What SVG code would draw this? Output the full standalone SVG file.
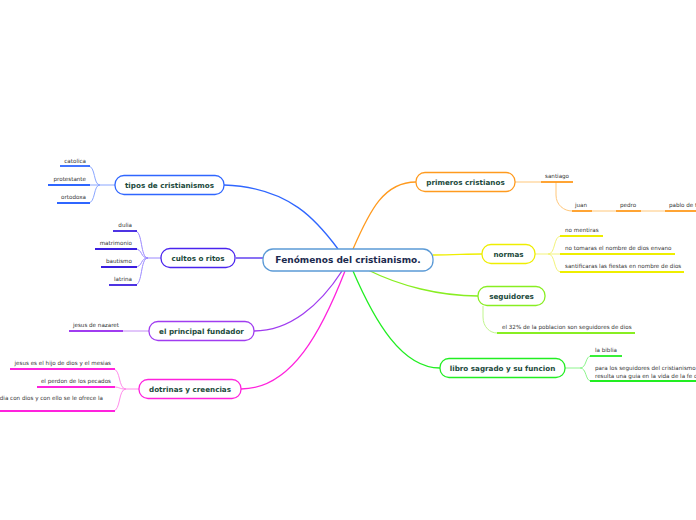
<svg xmlns="http://www.w3.org/2000/svg" width="696" height="520" viewBox="0 0 696 520">
<style>
.node rect{fill:#fff;stroke-width:1.3}
.nt{font-family:"DejaVu Sans",sans-serif;font-weight:bold;font-size:7.2px;fill:#1b4a3c;text-anchor:middle}
.ct{font-family:"DejaVu Sans",sans-serif;font-weight:bold;font-size:9px;fill:#1b2a4e;text-anchor:middle}
.lt{font-family:"DejaVu Sans",sans-serif;font-size:5.6px;fill:#333}
.e{text-anchor:end}
.c path{fill:none}
.m{stroke-width:1.3}
.b{stroke-width:1}
.u{stroke-width:1.8}
</style>
<g id="connectors" class="c">
<path class="m" d="M224,185 C290,187 318,222 338,249" stroke="#2f66ff"/>
<path class="m" d="M353,249 C370,210 384,182 416,182" stroke="#ff9a1e"/>
<path class="m" d="M433,255 C455,255 465,254 482,254" stroke="#eeee00"/>
<path class="m" d="M368,270 C400,286 440,296 478,296" stroke="#88ee22"/>
<path class="m" d="M353,271 C375,322 402,368 440,368" stroke="#22ee22"/>
<path class="m" d="M342,271 C320,305 290,331 254,331" stroke="#a03cf0"/>
<path class="m" d="M345,271 C322,330 292,389 241,389" stroke="#ff22dd"/>
<path class="m" d="M263,258 L236,258" stroke="#4a24ee"/>
<g stroke="#8aa6ff">
<path class="b" d="M115,185 L100,185 C93,185 96,166 88,166"/>
<path class="b" d="M100,185 L88,185"/>
<path class="b" d="M100,185 C93,185 96,203 88,203"/>
</g>
<g stroke="#2f66ff">
<path class="u" d="M60,166 H90"/>
<path class="u" d="M48,185 H90"/>
<path class="u" d="M57,203 H90"/>
</g>
<g stroke="#9a88ff">
<path class="b" d="M161,258 L148,258 C140,258 143,231 135,231"/>
<path class="b" d="M148,258 C140,258 143,249 135,249"/>
<path class="b" d="M148,258 C140,258 143,267 135,267"/>
<path class="b" d="M148,258 C140,258 143,285 135,285"/>
</g>
<g stroke="#3a1ee0">
<path class="u" d="M113,231 H137"/>
<path class="u" d="M95,249 H137"/>
<path class="u" d="M101,267 H137"/>
<path class="u" d="M109,285 H137"/>
</g>
<path class="b" d="M149,331 H123" stroke="#c48cf5"/>
<path class="u" d="M69,331 H123" stroke="#a03cf0"/>
<g stroke="#ff8ceb">
<path class="b" d="M139,389 L126,389 C118,389 121,369 113,369"/>
<path class="b" d="M126,389 C118,389 121,387 113,387"/>
<path class="b" d="M126,389 C118,389 121,411 113,411"/>
</g>
<g stroke="#ff22dd">
<path class="u" d="M10,369 H115"/>
<path class="u" d="M37,387 H115"/>
<path class="u" d="M0,411 H115"/>
</g>
<g stroke="#ffc77a">
<path class="b" d="M515,182 H541"/>
<path class="b" d="M556,182 V195 C556,205 564,211 572,211"/>
<path class="b" d="M592,211 H616"/>
<path class="b" d="M641,211 H665"/>
</g>
<g stroke="#ff9a1e">
<path class="u" d="M541,182 H573"/>
<path class="u" d="M572,211 H592"/>
<path class="u" d="M616,211 H641"/>
<path class="u" d="M665,211 H696"/>
</g>
<g stroke="#f3f37a">
<path class="b" d="M535,254 L548,254 C556,254 553,236 561,236"/>
<path class="b" d="M548,254 H561"/>
<path class="b" d="M548,254 C556,254 553,272 561,272"/>
</g>
<g stroke="#eeee00">
<path class="u" d="M560,236 H603"/>
<path class="u" d="M560,254 H675"/>
<path class="u" d="M560,272 H684"/>
</g>
<path class="b" d="M483,306 V317 C483,327 490,333 497,333" stroke="#c0f58c"/>
<path class="u" d="M497,333 H635" stroke="#88ee22"/>
<g stroke="#8cf58c">
<path class="b" d="M565,368 L580,368 C587,368 585,356 591,356"/>
<path class="b" d="M580,368 C587,368 585,381 591,381"/>
</g>
<g stroke="#22ee22">
<path class="u" d="M590,356 H622"/>
<path class="u" d="M590,381 H696"/>
</g>
</g>
<g id="center" class="node"><rect x="263" y="249" width="170" height="22" rx="10" stroke="#5b9ad6"/><text class="ct" x="348" y="263.3">Fenómenos del cristianismo.</text></g>
<g id="tipos" class="node"><rect x="115" y="175.5" width="109" height="19" rx="9" stroke="#2f66ff"/><text class="nt" x="169.5" y="188">tipos de cristianismos</text></g>
<g id="cultos" class="node"><rect x="161" y="248.5" width="74" height="19" rx="9" stroke="#4a24ee"/><text class="nt" x="198" y="261">cultos o ritos</text></g>
<g id="fundador" class="node"><rect x="149" y="321.5" width="105" height="19" rx="9" stroke="#a03cf0"/><text class="nt" x="201.5" y="334">el principal fundador</text></g>
<g id="dotrinas" class="node"><rect x="139" y="379.5" width="102" height="19" rx="9" stroke="#ff22dd"/><text class="nt" x="190" y="392">dotrinas y creencias</text></g>
<g id="primeros" class="node"><rect x="416" y="172.5" width="99" height="19" rx="9" stroke="#ff9a1e"/><text class="nt" x="465.5" y="185">primeros cristianos</text></g>
<g id="normas" class="node"><rect x="482" y="244.5" width="53" height="19" rx="9" stroke="#eeee00"/><text class="nt" x="508.5" y="257">normas</text></g>
<g id="seguidores" class="node"><rect x="478" y="286.5" width="67" height="19" rx="9" stroke="#88ee22"/><text class="nt" x="511.5" y="299">seguidores</text></g>
<g id="libro" class="node"><rect x="440" y="358.5" width="125" height="19" rx="9" stroke="#22ee22"/><text class="nt" x="502.5" y="371">libro sagrado y su funcion</text></g>
<g id="labels">
<text class="lt e" x="86" y="163">catolica</text>
<text class="lt e" x="86" y="181">protestante</text>
<text class="lt e" x="86" y="199">ortodoxa</text>
<text class="lt e" x="132" y="227">dulia</text>
<text class="lt e" x="132" y="245">matrimonio</text>
<text class="lt e" x="132" y="263">bautismo</text>
<text class="lt e" x="132" y="281">latrina</text>
<text class="lt e" x="119" y="327">jesus de nazaret</text>
<text class="lt e" x="111" y="365">jesus es el hijo de dios y el mesias</text>
<text class="lt e" x="111" y="383">el perdon de los pecados</text>
<text class="lt e" x="103" y="400">dia con dios y con ello se le ofrece la</text>
<text class="lt" x="545" y="178">santiago</text>
<text class="lt" x="575" y="207">juan</text>
<text class="lt" x="620" y="207">pedro</text>
<text class="lt" x="669" y="207">pablo de t</text>
<text class="lt" x="565" y="232">no mentiras</text>
<text class="lt" x="565" y="250">no tomaras el nombre de dios envano</text>
<text class="lt" x="565" y="268">santificaras las fiestas en nombre de dios</text>
<text class="lt" x="502" y="329">el 32% de la poblacion son seguidores de dios</text>
<text class="lt" x="595" y="352">la biblia</text>
<text class="lt" x="595" y="370">para los seguidores del cristianismo</text>
<text class="lt" x="595" y="378">resulta una guia en la vida de la fe c</text>
</g>
</svg>
